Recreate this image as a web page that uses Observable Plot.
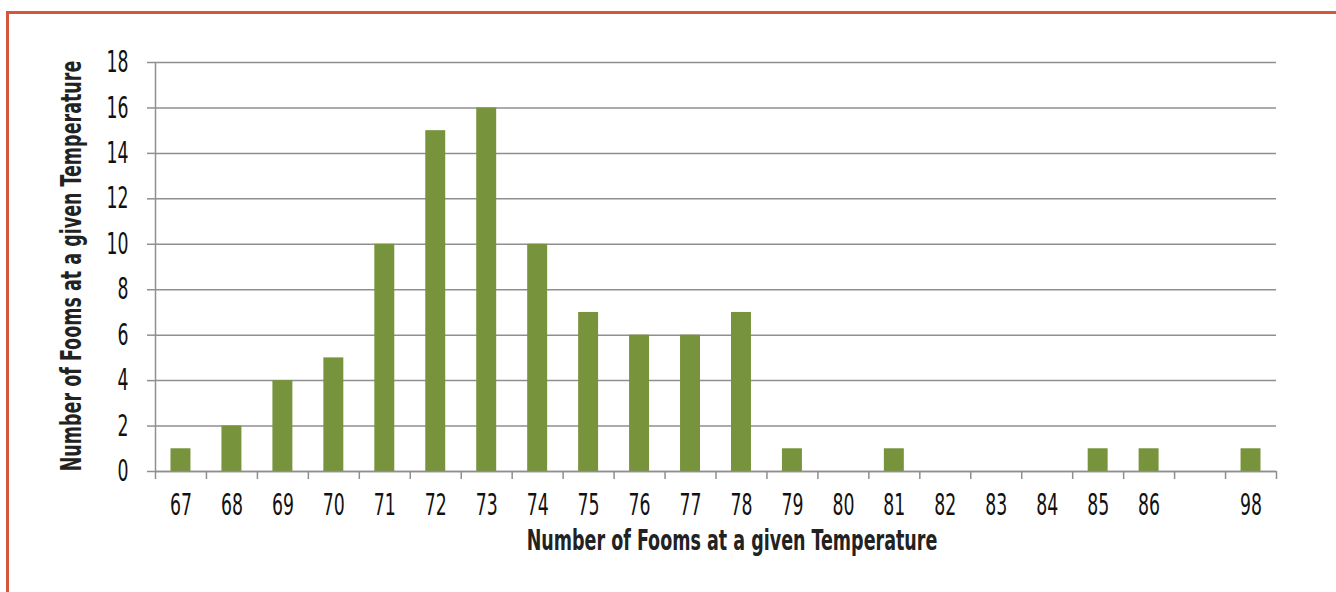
<!DOCTYPE html>
<html>
<head>
<meta charset="utf-8">
<script src="https://cdn.jsdelivr.net/npm/d3@7"></script>
<script src="https://cdn.jsdelivr.net/npm/@observablehq/plot@0.6"></script>
<style>
  html, body { margin: 0; padding: 0; background: #fff; }
  #wrap { position: relative; width: 1336px; height: 592px; overflow: hidden; font-family: "DejaVu Sans Condensed", "DejaVu Sans", sans-serif; font-stretch: condensed; }
  #frame { position: absolute; left: 6px; top: 11px; right: -10px; bottom: -10px; border-top: 3px solid #d3573a; border-left: 3px solid #d3573a; }
  #chart { position: absolute; left: 0; top: 0; }
  .title { position: absolute; font-weight: bold; font-size: 28px; line-height: 1; color: #222; white-space: nowrap; }
  #xtitle { left: 732px; top: 541px; }
  #ytitle { left: 72px; top: 266px; }
</style>
</head>
<body>
<div id="wrap">
  <div id="frame"></div>
  <div id="chart"></div>
  <div class="title" id="xtitle">Number of Fooms at a given Temperature</div>
  <div class="title" id="ytitle">Number of Fooms at a given Temperature</div>
</div>
<script>
const categories = ["67","68","69","70","71","72","73","74","75","76","77","78","79","80","81","82","83","84","85","86","","98"];
const counts     = [1, 2, 4, 5, 10, 15, 16, 10, 7, 6, 6, 7, 1, 0, 1, 0, 0, 0, 1, 1, 0, 1];
const yTicks     = [0, 2, 4, 6, 8, 10, 12, 14, 16, 18];

const data = categories.map((c, i) => ({cat: c, i, count: counts[i]}));
const n = categories.length;
const grid = "#8f8f8f";

const chart = Plot.plot({
  width: 1336,
  height: 592,
  marginLeft: 155,
  marginRight: 60,
  marginTop: 62,
  marginBottom: 121,
  style: {fontFamily: '"DejaVu Sans Condensed", "DejaVu Sans", sans-serif', fontSize: "30px", color: "#111", background: "transparent"},
  x: {type: "linear", domain: [0, n]},
  y: {domain: [0, 18]},
  marks: [
    Plot.gridY(yTicks, {stroke: grid, strokeOpacity: 1, strokeWidth: 1.5}),
    Plot.axisY(yTicks, {tickSize: 8, tickPadding: 19, stroke: grid, strokeWidth: 1.5, fill: "#111", fontSize: 30, label: null}),
    Plot.ruleX([0], {stroke: grid, strokeWidth: 1.5}),
    Plot.axisX(d3.range(0, n + 1), {tickSize: 8, tickFormat: () => "", stroke: grid, strokeWidth: 1.5, label: null}),
    Plot.rectY(data.filter(d => d.count > 0), {x1: "i", x2: d => d.i + 1, y: "count", insetLeft: 15.5, insetRight: 15.5, fill: "#77933c"}),
    Plot.ruleY([0], {stroke: grid, strokeWidth: 1.5}),
    Plot.text(data, {x: d => d.i + 0.5, text: "cat", frameAnchor: "bottom", dy: 34, lineAnchor: "middle", fill: "#111", fontSize: 30})
  ]
});
document.getElementById("chart").appendChild(chart);

// Condense the tick labels horizontally to mimic the narrow original typeface
const texts = Array.from(chart.querySelectorAll("text")).filter(t => t.textContent.trim() !== "");
const probe = texts.find(t => t.textContent === "68");
const sx = probe ? Math.min(1, 22 / probe.getComputedTextLength()) : 0.5;
for (const t of texts) {
  const x = parseFloat(t.getAttribute("x")) || 0;
  const prev = t.getAttribute("transform") || "";
  t.setAttribute("transform", `${prev} translate(${x},0) scale(${sx},1) translate(${-x},0)`);
}

// Condense titles to the original width
const xt = document.getElementById("xtitle");
const yt = document.getElementById("ytitle");
const st = Math.min(1, 411 / xt.offsetWidth);
xt.style.transform = `translate(-50%, -50%) scaleX(${st})`;
yt.style.transform = `translate(-50%, -50%) rotate(-90deg) scaleX(${st})`;
</script>
</body>
</html>
